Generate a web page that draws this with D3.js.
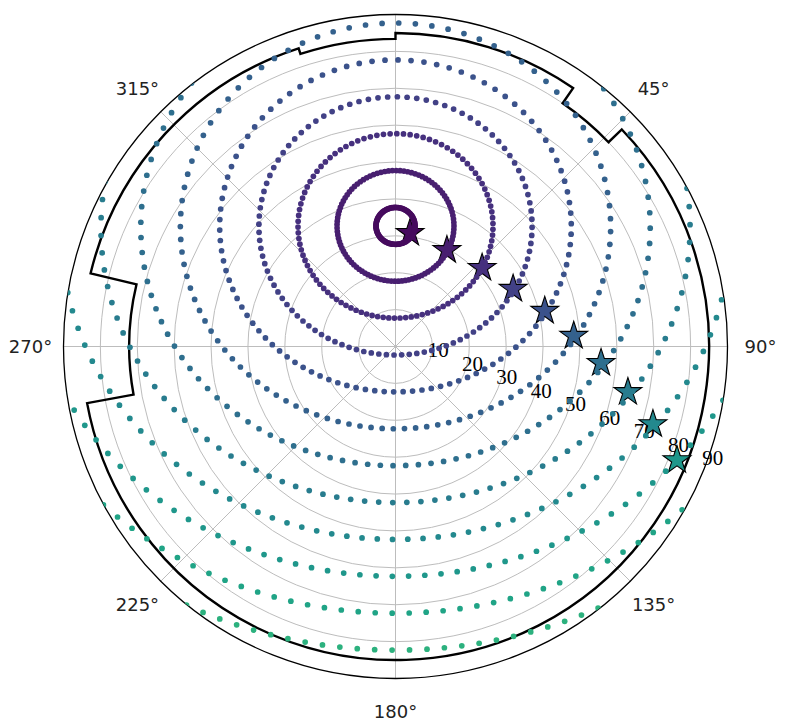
<!DOCTYPE html>
<html>
<head>
<meta charset="utf-8">
<script src="https://cdn.jsdelivr.net/npm/d3@7"></script>
<style>
  html, body { margin: 0; padding: 0; background: #ffffff; }
  svg { display: block; }
</style>
</head>
<body>
<svg id="chart" width="793" height="728"></svg>
<script>
// Sky map in azimuth / zenith-angle polar coordinates (north up, clockwise):
// rings of constant angular distance around a source, a horizon profile,
// and a set of marked points, one on each of the first rings.

// ---- data ----
const ringRho = [5, 15, 25, 35, 45, 55, 65, 75, 85, 95, 105, 115];   // angular distance of each ring (deg)
const dotsPerRing = 100;
const ringPhaseDeg = -0.7;
const sourceAz = 0;        // deg
const sourceZen = 32.7;    // deg

const starAz  = [7.3, 28.1, 47.8, 63.9, 76.6, 86.6, 94.6, 101.1, 106.8, 112.0];
const starZen = [31.0, 29.6, 31.7, 35.5, 41.6, 48.4, 55.9, 64.2, 72.9, 82.3];
const starRho = [5, 15, 25, 35, 45, 55, 65, 75, 85, 95];

// horizon profile: constant zenith angle between azimuth breakpoints
const horizonStart = [0, 34.5, 46.2, 259.6, 283.5, 342];
const horizonEnd   = [34.5, 46.2, 259.6, 283.5, 342, 360];
const horizonZen   = [85, 80, 85, 72.2, 85, 83.4];

const radialTicks = [10, 20, 30, 40, 50, 60, 70, 80, 90];
const gridAngles  = [0, 45, 90, 135, 180, 225, 270, 315];
const angleTicks  = [45, 90, 135, 180, 225, 270, 315];
const angleLabels = ["45°", "90°", "135°", "180°", "225°", "270°", "315°"];

// ---- layout ----
const cx = 395.5, cy = 346.5, R = 332;
const rLabelAz = 111.5;

const svg = d3.select("#chart");
const r = d3.scaleLinear().domain([0, 90]).range([0, R]);
const color = d3.scaleSequential(d3.interpolateViridis).domain([0, 180]);
const rad = d => d * Math.PI / 180;
const deg = x => x * 180 / Math.PI;

const g = svg.append("g").attr("transform", `translate(${cx},${cy})`);

svg.append("defs").append("clipPath").attr("id", "plotArea")
  .append("circle").attr("cx", cx).attr("cy", cy).attr("r", R);

// ---- ring geometry on the sphere ----
function skyVec(az, zen) {
  const a = rad(az), z = rad(zen);
  return [Math.sin(z) * Math.sin(a), Math.sin(z) * Math.cos(a), Math.cos(z)];
}
function norm(v) { const l = Math.hypot(v[0], v[1], v[2]); return v.map(c => c / l); }
function cross(a, b) {
  return [a[1] * b[2] - a[2] * b[1], a[2] * b[0] - a[0] * b[2], a[0] * b[1] - a[1] * b[0]];
}
const S = skyVec(sourceAz, sourceZen);
const t1 = norm([-S[2] * S[0], -S[2] * S[1], 1 - S[2] * S[2]]);   // toward the zenith
const t2 = cross(S, t1);                                          // toward increasing azimuth

const dots = [];
ringRho.forEach(rho => {
  const p = rad(rho);
  for (let j = 0; j < dotsPerRing; j++) {
    const psi = rad(ringPhaseDeg + j * 360 / dotsPerRing);
    const P = [0, 1, 2].map(k =>
      Math.cos(p) * S[k] + Math.sin(p) * (Math.cos(psi) * t1[k] + Math.sin(psi) * t2[k]));
    const zen = deg(Math.acos(Math.max(-1, Math.min(1, P[2]))));
    const az = (deg(Math.atan2(P[0], P[1])) + 360) % 360;
    if (zen <= 92) dots.push({ az, zen, rho });
  }
});

// ---- dots ----
svg.append("g").attr("clip-path", "url(#plotArea)")
  .append("g").attr("transform", `translate(${cx},${cy})`)
  .selectAll("circle").data(dots).join("circle")
  .attr("cx", d => d3.pointRadial(rad(d.az), r(d.zen))[0])
  .attr("cy", d => d3.pointRadial(rad(d.az), r(d.zen))[1])
  .attr("r", 2.85)
  .attr("fill", d => color(d.rho));

// ---- grid ----
const grid = g.append("g").attr("fill", "none").attr("stroke", "#bdbdbd").attr("stroke-width", 1);
grid.selectAll("circle").data(radialTicks.filter(v => v < 90)).join("circle")
  .attr("r", d => r(d));
grid.selectAll("line").data(gridAngles).join("line")
  .attr("x1", 0).attr("y1", 0)
  .attr("x2", d => d3.pointRadial(rad(d), R)[0])
  .attr("y2", d => d3.pointRadial(rad(d), R)[1]);

// ---- horizon ----
const hp = d3.path();
horizonZen.forEach((z, i) => {
  hp.arc(0, 0, r(z), rad(horizonStart[i]) - Math.PI / 2, rad(horizonEnd[i]) - Math.PI / 2);
});
hp.closePath();
g.append("path").attr("d", hp.toString())
  .attr("fill", "none").attr("stroke", "#000").attr("stroke-width", 2.4)
  .attr("stroke-linejoin", "miter");

// ---- radial labels ----
g.append("g").selectAll("text").data(radialTicks).join("text")
  .attr("x", d => d3.pointRadial(rad(rLabelAz), r(d))[0] + 8.4)
  .attr("y", d => d3.pointRadial(rad(rLabelAz), r(d))[1] - 10)
  .attr("text-anchor", "middle").attr("dominant-baseline", "central")
  .attr("font-family", "'Liberation Serif', serif").attr("font-size", 21)
  .attr("fill", "#000")
  .text(d => d);

// ---- angle labels ----
g.append("g").selectAll("text").data(angleTicks).join("text")
  .attr("x", d => d3.pointRadial(rad(d), R + 33)[0])
  .attr("y", d => d3.pointRadial(rad(d), R + 33)[1])
  .attr("text-anchor", "middle").attr("dominant-baseline", "central")
  .attr("font-family", "'DejaVu Sans', sans-serif").attr("font-size", 18)
  .attr("fill", "#222")
  .text((d, i) => angleLabels[i]);

// ---- stars ----
const star = d3.symbol(d3.symbolStar, 240);
g.append("g").selectAll("path").data(starAz).join("path")
  .attr("transform", (d, i) => {
    const [x, y] = d3.pointRadial(rad(d), r(starZen[i]));
    return `translate(${x},${y})`;
  })
  .attr("d", star)
  .attr("fill", (d, i) => color(starRho[i]))
  .attr("stroke", "#000").attr("stroke-width", 1.1)
  .attr("stroke-linejoin", "miter");

// ---- outer boundary ----
g.append("circle").attr("r", R)
  .attr("fill", "none").attr("stroke", "#000").attr("stroke-width", 1.3);
</script>
</body>
</html>
